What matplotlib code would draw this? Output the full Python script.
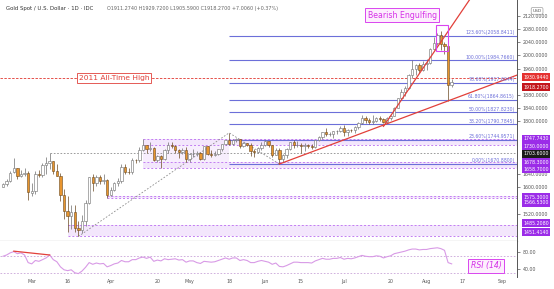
import numpy as np
import pandas as pd
import matplotlib
matplotlib.use("Agg")
import matplotlib.pyplot as plt
from matplotlib.patches import Rectangle
import matplotlib.transforms as mtransforms

plt.rcParams['font.family'] = ['DejaVu Sans']

# ---- data ----
dates = pd.bdate_range('2020-02-19', '2020-08-12')
opens = [1601.5, 1611.5, 1619.5, 1648, 1658.5, 1635, 1641, 1643, 1584, 1590,
         1641, 1636.5, 1668.5, 1673, 1680, 1649, 1636, 1576, 1529, 1514,
         1526, 1477, 1470, 1498, 1553, 1631, 1612, 1630, 1619, 1621,
         1577, 1591, 1612, 1620, 1661, 1648, 1646, 1683, 1683, 1713,
         1727, 1716, 1718, 1683, 1694, 1686, 1713, 1730, 1726, 1713,
         1706, 1712, 1686, 1700, 1702, 1705, 1685, 1725, 1702, 1697,
         1702, 1715, 1731, 1743, 1733, 1745, 1747, 1725, 1735, 1728,
         1709, 1708, 1719, 1730, 1740, 1727, 1699, 1714, 1685, 1697,
         1715, 1738, 1728, 1730, 1726, 1727, 1726, 1722, 1743, 1754,
         1768, 1761, 1763, 1771, 1772, 1781, 1769, 1775, 1774, 1784,
         1795, 1809, 1803, 1799, 1802, 1810, 1808, 1797, 1810, 1817,
         1842, 1871, 1888, 1902, 1941, 1958, 1970, 1957, 1975, 1976,
         2019, 2037, 2063, 2035, 2028, 1911.274]
highs = [1612, 1624, 1649, 1689, 1660, 1652, 1660, 1649, 1612, 1649,
         1652, 1673, 1692, 1703.6, 1681, 1670, 1645, 1594, 1575, 1548,
         1547, 1498, 1516, 1563, 1633, 1640, 1637, 1637, 1642, 1625,
         1600, 1617, 1627, 1671, 1671, 1660, 1690, 1686, 1723, 1747.7,
         1730, 1738, 1721, 1698, 1698, 1716, 1738, 1738, 1727, 1715,
         1718, 1722, 1703, 1715, 1711, 1708, 1725, 1726, 1714, 1710,
         1717, 1732, 1745, 1765.3, 1748, 1749, 1748, 1737, 1736, 1735,
         1715, 1723, 1737, 1745, 1742, 1730, 1718, 1718, 1700, 1719,
         1739, 1745, 1741, 1736, 1735, 1733, 1731, 1745, 1757, 1768,
         1779, 1769, 1772, 1774, 1785, 1789, 1776, 1777, 1786, 1797,
         1818, 1817, 1809, 1818, 1813, 1816, 1811, 1814, 1820, 1843,
         1872, 1898, 1906, 1944, 1984.8, 1974, 1976, 1984, 1989, 2021,
         2055, 2069, 2075, 2042, 2032, 1929.72]
lows = [1600, 1603, 1617, 1643, 1624, 1632, 1636, 1563, 1575, 1580,
        1630, 1633, 1641, 1655, 1640, 1634, 1560, 1504, 1465, 1475,
        1466, 1451.4, 1462, 1484, 1549, 1589, 1605, 1611, 1610, 1566.5,
        1574, 1589, 1605, 1612, 1640, 1641, 1642, 1675, 1676, 1710,
        1705, 1710, 1680, 1676, 1658.7, 1684, 1705, 1720, 1703, 1690,
        1702, 1678, 1676, 1693, 1695, 1682, 1683, 1698, 1692, 1695,
        1697, 1710, 1729, 1728, 1729, 1737, 1718, 1722, 1724, 1696,
        1693, 1705, 1713, 1725, 1721, 1693, 1697, 1670.9, 1677, 1690,
        1713, 1718, 1722, 1705, 1711, 1719, 1715, 1720, 1740, 1746,
        1755, 1755, 1751, 1761, 1767, 1757, 1756, 1767, 1764, 1777,
        1792, 1795, 1793, 1792, 1798, 1802, 1794, 1795, 1805, 1815,
        1840, 1865, 1876, 1899, 1932, 1941, 1948, 1953, 1956, 1973,
        2015, 2032, 2015, 2004, 1863, 1905.59]
closes = [1611.5, 1619.5, 1643.5, 1658.5, 1635, 1641, 1643, 1585.5, 1590, 1641,
          1636.5, 1668.5, 1673, 1680, 1649, 1636, 1576, 1529, 1514, 1526,
          1477, 1470, 1498, 1553, 1631, 1612, 1630, 1619, 1621, 1577,
          1591, 1612, 1620, 1661, 1648, 1646, 1683, 1682, 1713, 1727,
          1716, 1718, 1683, 1694, 1686, 1713, 1730, 1726, 1713, 1706,
          1712, 1686, 1700, 1702, 1705, 1685, 1725, 1702, 1697, 1702,
          1715, 1731, 1743, 1733, 1745, 1747, 1725, 1735, 1728, 1709,
          1708, 1719, 1730, 1740, 1727, 1699, 1714, 1685, 1697, 1715,
          1738, 1728, 1730, 1726, 1727, 1726, 1722, 1743, 1754, 1768,
          1761, 1763, 1771, 1772, 1781, 1769, 1775, 1774, 1784, 1795,
          1809, 1803, 1799, 1802, 1810, 1808, 1797, 1810, 1817, 1842,
          1871, 1888, 1902, 1941, 1958, 1970, 1957, 1975, 1976, 2019,
          2037, 2063, 2035, 2028, 1911.264, 1918.27]
rsi = [70, 73, 78, 81, 76, 78, 73, 55, 52, 60,
       58, 62, 66, 73, 62, 57, 45, 38, 36, 38,
       31, 29, 35, 44, 55, 51, 54, 52, 53, 45,
       48, 52, 54, 60, 57, 57, 62, 62, 66, 68,
       65, 68, 58, 61, 59, 64, 62, 63, 64, 61,
       62, 56, 59, 59, 55, 53, 58, 57, 56, 57,
       60, 63, 66, 63, 66, 66, 60, 62, 60, 55,
       55, 58, 60, 58, 56, 51, 54, 46, 45, 48,
       52, 56, 56, 55, 55, 55, 54, 59, 62, 65,
       63, 63, 65, 65, 67, 63, 65, 64, 66, 69,
       72, 70, 69, 69, 71, 70, 66, 69, 71, 76,
       78, 80, 82, 85, 87, 87, 85, 86, 86, 88,
       89, 90, 88, 84, 55, 52]

# fibonacci extension levels
fib_pcts = ['123.60%', '100.00%', '78.60%', '61.80%', '50.00%', '38.20%', '23.60%', '0.00%']
fib_prices = [2058.8411, 1984.7660, 1917.6044, 1864.8615, 1827.8230, 1790.7845, 1744.9571, 1670.8800]
# zones (low, high) and the bar where they start
zones = [(1730.0, 1747.7430), (1658.7, 1678.3), (1566.53, 1575.3), (1451.414, 1485.208)]
zone_start = ['2020-04-14', '2020-04-14', '2020-03-31', '2020-03-16']
# shaded consolidation box Apr-May
box_dates = ['2020-04-14', '2020-05-18']
box_prices = [1658.7, 1747.743]
ath_price = 1930.9440
gray_level = 1703.6
# gray dashed zigzag A-B-C
abc_dates = ['2020-03-19', '2020-05-18', '2020-06-05']
abc_prices = [1451.414, 1765.3, 1670.88]
# trendlines (date, price) pairs
trend1 = (['2020-06-05', '2020-09-08'], [1670.88, 1943.6])
trend2 = (['2020-07-16', '2020-08-20'], [1785, 2185])
div_dates = ['2020-02-24', '2020-03-09']
div_rsi = [82, 73]

right_prices = [1930.9440, 1918.2700, 1747.7430, 1730.0000, 1703.6000, 1678.3000,
                1658.7000, 1575.3000, 1566.5300, 1485.2080, 1451.4140]
right_colors = ['#e5312f', '#c4161c', '#9b2ce8', '#9b2ce8', '#1b1b1b', '#9b2ce8',
                '#9b2ce8', '#9b2ce8', '#9b2ce8', '#9b2ce8', '#9b2ce8']
price_ticks = [2120, 2080, 2040, 2000, 1960, 1880, 1840, 1800, 1640, 1600, 1520]
rsi_ticks = [80, 40]
xtick_dates = ['2020-03-02', '2020-03-16', '2020-04-01', '2020-04-20', '2020-05-01', '2020-05-18',
               '2020-06-01', '2020-06-15', '2020-07-01', '2020-07-20', '2020-08-03', '2020-08-17',
               '2020-09-01']
xtick_labels = ['Mar', '16', 'Apr', '20', 'May', '18', 'Jun', '15', 'Jul', '20', 'Aug', '17', 'Sep']

# bar index for any business day (chart skips weekends)
axis_days = pd.bdate_range('2020-02-19', '2020-09-30')
def idx(d):
    return axis_days.get_loc(pd.Timestamp(d))

x = np.arange(len(dates))
opens, highs, lows, closes = map(np.array, (opens, highs, lows, closes))

W, H = 554, 289
fig = plt.figure(figsize=(W / 100, H / 100), dpi=100)
ax = fig.add_axes([0, 1 - 241 / H, 517 / W, 241 / H])
rax = fig.add_axes([0, 1 - 277 / H, 517 / W, 36 / H])

xlim = (-0.84, 143.2)
ylim = (1437.5, 2168.0)
ax.set_xlim(*xlim)
ax.set_ylim(*ylim)
rax.set_xlim(*xlim)
rax.set_ylim(21, 106)
px = (ylim[1] - ylim[0]) / 241  # price units per pixel

fib_c = '#6c6fd9'
zone_c = '#c27df2'

# zones
b0, b1 = idx(box_dates[0]), idx(box_dates[1])
ax.add_patch(Rectangle((b0, box_prices[0]), b1 - b0, box_prices[1] - box_prices[0],
                       facecolor='#f7eefd', edgecolor='none', zorder=0))
for (lo, hi), sd in zip(zones, zone_start):
    s = idx(sd)
    ax.add_patch(Rectangle((s, lo), xlim[1] - s, hi - lo, facecolor='#f3e6fc',
                           edgecolor='none', zorder=0))
    ax.hlines([lo, hi], s, xlim[1], colors=zone_c, linestyles=(0, (2, 2)), lw=0.7, zorder=1)

ax.hlines(gray_level, idx('2020-03-09'), xlim[1], colors='#8c8c8c',
          linestyles=(0, (2, 2)), lw=0.6, zorder=1)

# fib lines
fs = idx(abc_dates[1])
for p, pr in zip(fib_pcts, fib_prices):
    ax.hlines(pr, fs, xlim[1], colors=fib_c, lw=0.8, zorder=1)
    ax.text(xlim[1] - 0.6, pr + 2, f'{p}({pr:.4f})', ha='right', va='bottom',
            fontsize=3.3, color=fib_c, zorder=5)

ax.plot([idx(d) for d in abc_dates], abc_prices, color='#8c8c8c',
        ls=(0, (2, 2)), lw=0.6, zorder=1)

# all-time-high line
ax.axhline(ath_price, color='#e5504a', ls=(0, (2.5, 1.5)), lw=0.7, zorder=1)
ax.text(31.0, ath_price, '2011 All-Time High', ha='center', va='center', fontsize=5.4,
        color='#e0403a', zorder=6,
        bbox=dict(boxstyle='square,pad=0.25', fc='white', ec='#e0403a', lw=0.6))

# trendlines
for tl in (trend1, trend2):
    ax.plot([idx(d) for d in tl[0]], tl[1], color='#e2403a', lw=0.9, zorder=4)

# candles
up = closes >= opens
ax.vlines(x, lows, highs, colors=np.where(up, '#6d6d6d', '#6a4a22'), lw=0.5, zorder=2)
ax.bar(x[up], closes[up] - opens[up], bottom=opens[up], width=0.66,
       color='white', edgecolor='#6d6d6d', lw=0.4, zorder=3)
ax.bar(x[~up], opens[~up] - closes[~up], bottom=closes[~up], width=0.66,
       color='#e8952e', edgecolor='#6a4a22', lw=0.4, zorder=3)

# bearish engulfing marker
ax.add_patch(Rectangle((120.6, 2014), 3.4, 79, fill=False, ec='#d946ef', lw=0.8, zorder=5))
ax.text(111.2, 2122, 'Bearish Engulfing', ha='center', va='center', fontsize=5.6,
        color='#d530e8', zorder=6,
        bbox=dict(boxstyle='square,pad=0.3', fc='#fdeefd', ec='#d946ef', lw=0.7))

# header text
ax.text(0.012, 0.975, 'Gold Spot / U.S. Dollar · 1D · IDC', transform=ax.transAxes,
        fontsize=3.9, color='#333333', va='top', ha='left')
ax.text(0.206, 0.975, 'O1911.2740 H1929.7200 L1905.5900 C1918.2700 +7.0060 (+0.37%)',
        transform=ax.transAxes, fontsize=3.5, color='#666666', va='top', ha='left')

# price axis on the right
for a in (ax, rax):
    for s in ('top', 'left', 'bottom'):
        a.spines[s].set_visible(False)
    a.spines['right'].set_color('#555555')
    a.spines['right'].set_linewidth(0.7)
    a.yaxis.tick_right()
    a.tick_params(axis='y', length=2, width=0.5, colors='#555555', labelsize=3.4, pad=2)
ax.set_xticks([])
ax.set_yticks(price_ticks)
ax.set_yticklabels([f'{t:.4f}' for t in price_ticks])

# coloured price labels, nudged (in pixels) so they do not collide
label_nudge_px = [-1, 5, 0, 1.5, 0.5, 0.5, 1, 1.5, 4.5, -2, -4]
trans = mtransforms.blended_transform_factory(ax.transAxes, ax.transData)
for pr, col, nd in zip(right_prices, right_colors, label_nudge_px):
    ax.text(1.012, pr - nd * px, f'{pr:.4f}', transform=trans, fontsize=3.4,
            color='white', va='center', ha='left', clip_on=False, zorder=10,
            bbox=dict(boxstyle='square,pad=0.3', fc=col, ec='none'))
ax.text(1.03, 2135, 'USD', transform=trans, fontsize=3.2, color='#555555', va='center',
        ha='left', clip_on=False, zorder=10,
        bbox=dict(boxstyle='round,pad=0.3', fc='white', ec='#888888', lw=0.4))

# pane separator
ax.plot([0, 1], [0, 0], transform=ax.transAxes, color='#555555', lw=0.8, clip_on=False)

# RSI pane
rax.plot(x, rsi, color='#d89ae6', lw=0.8, zorder=3)
rax.axhline(70, color='#c9a3d8', ls=(0, (2, 2)), lw=0.6)
rax.axhline(30, color='#c9a3d8', ls=(0, (2, 2)), lw=0.6)
rax.plot([idx(d) for d in div_dates], div_rsi, color='#e2403a', lw=0.9, zorder=4)
rax.text(134.6, 47, 'RSI (14)', ha='center', va='center', fontsize=5.6, style='italic',
         color='#d530e8', zorder=6,
         bbox=dict(boxstyle='square,pad=0.3', fc='#fdeefd', ec='#d946ef', lw=0.7))
rax.set_yticks(rsi_ticks)
rax.set_yticklabels([f'{t:.2f}' for t in rsi_ticks])
rax.set_xticks([idx(d) for d in xtick_dates])
rax.set_xticklabels(xtick_labels)
rax.tick_params(axis='x', length=0, labelsize=3.4, colors='#555555', pad=1.5)

fig.savefig('out.png', dpi=100, facecolor='white')
